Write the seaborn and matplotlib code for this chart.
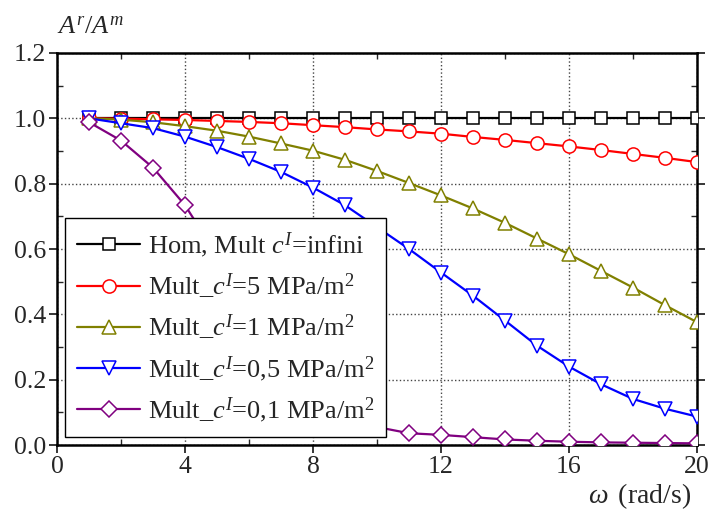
import pandas as pd
import matplotlib
matplotlib.use('Agg')
import matplotlib.pyplot as plt
from matplotlib.ticker import MultipleLocator
import seaborn as sns

# frequency (rad/s)
omega = list(range(1, 21))

# amplitude ratio A^r/A^m for each interface stiffness
hom_inf = [1.0] * 20
mult_5 = [1.0, 0.999, 0.997, 0.995, 0.992, 0.989, 0.985, 0.979, 0.973, 0.966,
          0.960, 0.953, 0.943, 0.934, 0.924, 0.914, 0.903, 0.891, 0.879, 0.866]
mult_1 = [1.0, 0.996, 0.988, 0.976, 0.962, 0.944, 0.923, 0.901, 0.873, 0.839,
          0.802, 0.764, 0.724, 0.680, 0.632, 0.584, 0.533, 0.482, 0.428, 0.376]
mult_05 = [1.0, 0.985, 0.970, 0.944, 0.912, 0.876, 0.836, 0.788, 0.734, 0.667,
           0.600, 0.528, 0.457, 0.381, 0.304, 0.240, 0.186, 0.141, 0.111, 0.087]
mult_01 = [0.988, 0.932, 0.849, 0.734, 0.58, 0.42, 0.27, 0.16, 0.09, 0.055,
           0.036, 0.031, 0.024, 0.017, 0.013, 0.010, 0.008, 0.007, 0.006, 0.005]

labels = [r'Hom, Mult $c^I$=infini',
          r'Mult_$c^I$=5 MPa/m$^2$',
          r'Mult_$c^I$=1 MPa/m$^2$',
          r'Mult_$c^I$=0,5 MPa/m$^2$',
          r'Mult_$c^I$=0,1 MPa/m$^2$']
series = [hom_inf, mult_5, mult_1, mult_05, mult_01]
colors = ['black', '#FF0000', '#808000', '#0000FF', '#800080']
markers = ['s', 'o', '^', 'v', 'D']
msizes = [8.5, 9.5, 10, 10, 8]

sns.set_style('ticks')
plt.rcParams['font.family'] = ['Liberation Serif', 'DejaVu Serif']
plt.rcParams['mathtext.fontset'] = 'custom'
plt.rcParams['mathtext.rm'] = 'Liberation Serif'
plt.rcParams['mathtext.it'] = 'Liberation Serif:italic'

fig = plt.figure(figsize=(7.12, 5.13), dpi=100)
ax = fig.add_axes([57 / 712, 1 - 445 / 513, 640 / 712, 392 / 513])

for lab, vals, col, mk, ms in zip(labels, series, colors, markers, msizes):
    df = pd.DataFrame({'omega': omega, 'ratio': vals})
    sns.lineplot(data=df, x='omega', y='ratio', ax=ax, color=col, marker=mk,
                 markersize=ms, markerfacecolor='white', markeredgecolor=col,
                 markeredgewidth=1.1, linewidth=1.6, label=lab, zorder=3)

ax.set_xlim(0, 20)
ax.set_ylim(0, 1.2)
ax.xaxis.set_major_locator(MultipleLocator(4))
ax.xaxis.set_minor_locator(MultipleLocator(2))
ax.yaxis.set_major_locator(MultipleLocator(0.2))
ax.yaxis.set_minor_locator(MultipleLocator(0.1))
ax.yaxis.set_major_formatter(matplotlib.ticker.FormatStrFormatter('%.1f'))
ax.grid(True, which='major', linestyle=':', color='#444444', linewidth=1.0)
ax.tick_params(which='major', direction='out', length=6, width=1.3,
               labelsize=18.5, right=True, top=False, pad=2)
ax.tick_params(which='minor', direction='in', length=4, width=1.0,
               right=True, top=True)
for sp in ax.spines.values():
    sp.set_linewidth(1.8)
    sp.set_color('black')
ax.set_xlabel('')
ax.set_ylabel('')

ax.text(0.0, 1.065, r'$A^r/A^m$', transform=ax.transAxes, ha='left',
        va='center', fontsize=19)
ax.text(0.99, -0.13, r'$\omega\,$ (rad/s)', transform=ax.transAxes,
        ha='right', va='center', fontsize=20)

leg = ax.legend(loc='lower left', bbox_to_anchor=(0.0125, 0.02),
                borderaxespad=0, fontsize=19, frameon=True, fancybox=False,
                handlelength=2.4, labelspacing=0.45, borderpad=0.45,
                handletextpad=0.3)
leg.get_frame().set_edgecolor('black')
leg.get_frame().set_linewidth(1.0)
leg.get_frame().set_alpha(1)
leg.set_zorder(5)

fig.savefig('out.png', dpi=100)
plt.close(fig)
